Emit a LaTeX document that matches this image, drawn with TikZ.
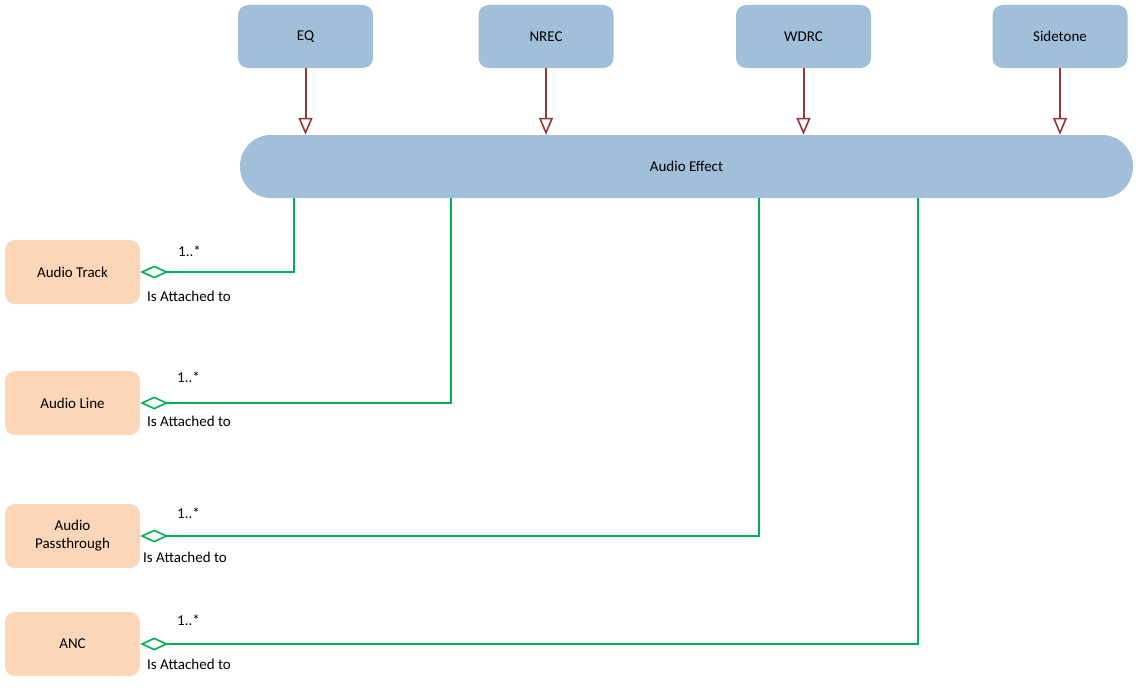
\documentclass[tikz,border=0pt]{standalone}
\usepackage{fontspec}
\setmainfont{Carlito}
\usetikzlibrary{arrows.meta,positioning}
\definecolor{effblue}{HTML}{A2BFDA}
\definecolor{peach}{HTML}{FBD6B8}
\definecolor{linkgreen}{HTML}{00B050}
\definecolor{arrred}{HTML}{953735}
\tikzset{
  effect/.style={fill=effblue, draw=none, rounded corners=10pt, minimum width=135pt, minimum height=63pt, font=\fontsize{15}{17}\selectfont},
  user/.style={fill=peach, draw=none, rounded corners=10pt, minimum width=135pt, minimum height=64pt, align=center, font=\fontsize{15}{18}\selectfont},
  uses/.style={arrred, line width=2pt, -{Triangle[open, length=17pt, width=14pt, line width=1.6pt]}},
  attach/.style={linkgreen, line width=2pt, {Diamond[open, fill=white, length=28pt, width=13pt, line width=1.6pt]}-},
  lbl/.style={font=\fontsize{15}{17}\selectfont, inner sep=0pt, anchor=west}
}
\begin{document}
\begin{tikzpicture}[x=1pt, y=-1pt]
  \useasboundingbox (0,0) rectangle (1145,693);

  % Effect types
  \node[effect] (eq) at (305.5,36.5) {EQ};
  \node[effect] (nrec) at (546,36.5) {NREC};
  \node[effect] (wdrc) at (803.5,36.5) {WDRC};
  \node[effect] (side) at (1060,36.5) {Sidetone};

  % Audio effect
  \node[fill=effblue, rounded corners=31pt, minimum width=893pt, minimum height=63pt, font=\fontsize{15}{17}\selectfont] (ae) at (686.5,166.5) {Audio Effect};

  % Users
  \node[user] (track) at (72.5,272) {Audio Track};
  \node[user] (line) at (72.5,403) {Audio Line};
  \node[user] (pass) at (72.5,536) {Audio\\Passthrough};
  \node[user] (anc) at (72.5,644) {ANC};

  % Generalization arrows
  \foreach \n in {eq,nrec,wdrc,side}
    \draw[uses] (\n.south) -- (\n.south |- ae.north);

  % Attachments
  \draw[attach] (track.east) -- (294,272) -- (294,272 |- ae.south);
  \draw[attach] (line.east) -- (451,403) -- (451,403 |- ae.south);
  \draw[attach] (pass.east) -- (759,536) -- (759,536 |- ae.south);
  \draw[attach] (anc.east) -- (918,644) -- (918,644 |- ae.south);

  % Multiplicities and roles
  \node[lbl] (m1) at (178,251) {1..*};
  \node[lbl] (r1) at (147,296) {Is Attached to};
  \node[lbl] (m2) at (177,377) {1..*};
  \node[lbl] (r2) at (147,421) {Is Attached to};
  \node[lbl] (m3) at (177,513) {1..*};
  \node[lbl] (r3) at (143,557) {Is Attached to};
  \node[lbl] (m4) at (177,620) {1..*};
  \node[lbl] (r4) at (147,664) {Is Attached to};
\end{tikzpicture}
\end{document}
